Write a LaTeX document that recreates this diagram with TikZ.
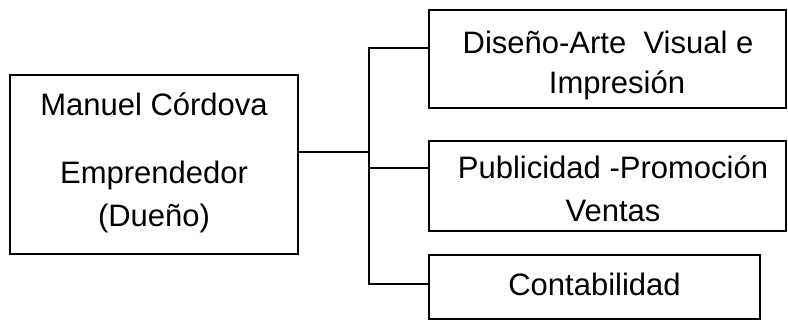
\documentclass[tikz,border=0pt]{standalone}
\usepackage{fontspec}
\setmainfont{Liberation Sans}
\begin{document}
\begin{tikzpicture}[x=1pt,y=-1pt,
  box/.style={draw=black,line width=1.6pt,fill=white,inner sep=0pt},
  txt/.style={anchor=base,inner sep=0pt,font=\fontsize{31}{42}\selectfont},
  link/.style={draw=black,line width=1.6pt}]
\useasboundingbox (0,0) rectangle (788,320);
\clip (0,0) rectangle (788,320);
% boxes
\node[box,minimum width=288pt,minimum height=179pt] (main) at (154,164.5) {};
\node[box,minimum width=357pt,minimum height=98pt] (d1) at (607.5,59) {};
\node[box,minimum width=357pt,minimum height=90pt] (d2) at (607.5,186) {};
\node[box,minimum width=331pt,minimum height=64pt] (d3) at (594.5,287) {};
% texts
\node[txt] (m1) at (154,116) {Manuel Córdova};
\node[txt] (m2) at (154,184) {Emprendedor};
\node[txt] (m3) at (154,227) {(Dueño)};
\node[txt] (a1) at (608,54) {Diseño-Arte\ \ Visual e};
\node[txt] (a2) at (617,94) {Impresión};
\node[txt] (b1) at (613,179) {Publicidad -Promoción};
\node[txt] (b2) at (613,222) {Ventas};
\node[txt] (c1) at (594.5,296) {Contabilidad};
% connectors
\coordinate (j) at (369,152);
\coordinate (j1) at (369,48);
\coordinate (j2) at (369,168);
\coordinate (j3) at (369,284);
\draw[link] (main.east |- j) -- (j);
\draw[link] (j1 -| d1.west) -- (j1) -- (j3) -- (j3 -| d3.west);
\draw[link] (j2) -- (j2 -| d2.west);
\end{tikzpicture}
\end{document}
